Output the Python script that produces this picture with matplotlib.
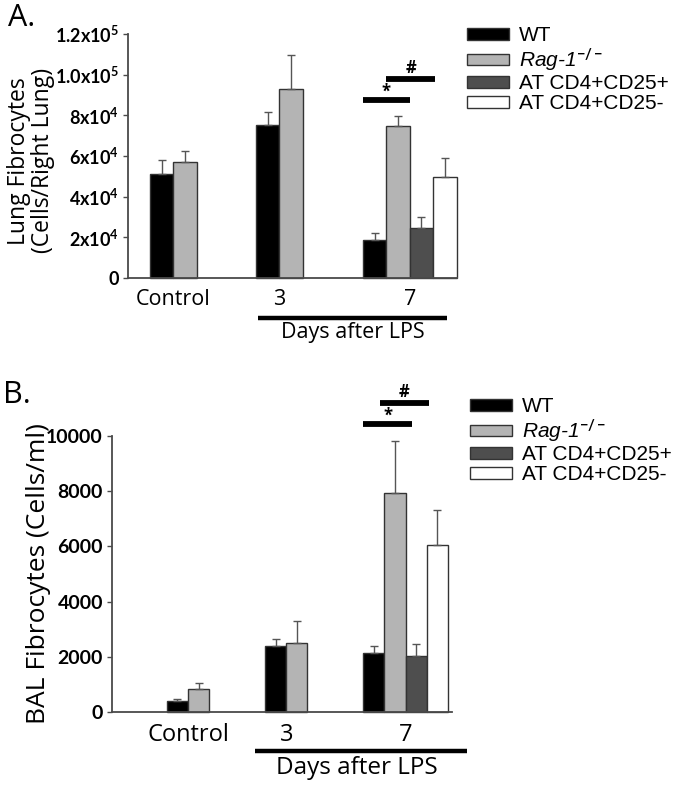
import numpy as np
import matplotlib
matplotlib.use("Agg")
import matplotlib.pyplot as plt
from matplotlib.patches import Patch
from matplotlib.transforms import blended_transform_factory

plt.rcParams['font.family'] = ['Open Sans', 'DejaVu Sans']
plt.rcParams['mathtext.fontset'] = 'custom'
plt.rcParams['mathtext.rm'] = 'Lato:bold'
plt.rcParams['mathtext.it'] = 'Liberation Sans:italic'

groups = ['Control', '3', '7']
series = ['WT', 'Rag-1$^{\\mathit{-/-}}$', 'AT CD4+CD25+', 'AT CD4+CD25-']
colors = ['#000000', '#b4b4b4', '#4e4e4e', '#ffffff']

# panel A: lung fibrocytes (cells / right lung), mean and upper SEM
lung_wt = [51000, 75000, 18700]
lung_wt_err = [7000, 6500, 3500]
lung_rag = [57000, 93000, 74700]
lung_rag_err = [5500, 16500, 5000]
lung_pos = [24700]          # AT CD4+CD25+, day 7 only
lung_pos_err = [5300]
lung_neg = [49700]          # AT CD4+CD25-, day 7 only
lung_neg_err = [9300]
lung_ticks = [0, 20000, 40000, 60000, 80000, 100000, 120000]
lung_ticklabels = ['0', '2x10$^4$', '4x10$^4$', '6x10$^4$', '8x10$^4$',
                   '1.0x10$^5$', '1.2x10$^5$']

# panel B: BAL fibrocytes (cells / ml)
bal_wt = [400, 2390, 2140]
bal_wt_err = [70, 250, 250]
bal_rag = [830, 2500, 7930]
bal_rag_err = [220, 800, 1890]
bal_pos = [2030]
bal_pos_err = [430]
bal_neg = [6050]
bal_neg_err = [1270]
bal_ticks = [0, 2000, 4000, 6000, 8000, 10000]
bal_ticklabels = ['0', '2000', '4000', '6000', '8000', '10000']

EDGE = '#333333'
AXC = '#4a4a4a'


def draw_panel(ax, starts, xmax, wt, wt_err, rag, rag_err, pos, pos_err,
               neg, neg_err, ymax, ticks, ticklabels, tick_fs, xt_fs, pad):
    starts = np.array(starts)
    ekw = dict(ecolor='#555555', elinewidth=1.0, capsize=3, capthick=1.0)
    bkw = dict(width=1.0, align='edge', edgecolor=EDGE, linewidth=1.0,
               clip_on=False)
    z = np.zeros(len(wt))
    ax.bar(starts, wt, color=colors[0], yerr=[z, wt_err], error_kw=ekw, **bkw)
    ax.bar(starts + 1, rag, color=colors[1], yerr=[z, rag_err], error_kw=ekw, **bkw)
    ax.bar(starts[-1:] + 2, pos, color=colors[2], yerr=[[0], pos_err],
           error_kw=ekw, **bkw)
    ax.bar(starts[-1:] + 3, neg, color=colors[3], yerr=[[0], neg_err],
           error_kw=ekw, **bkw)

    ax.set_xlim(0, xmax)
    ax.set_ylim(0, ymax)
    ax.set_yticks(ticks, ticklabels)
    centers = [starts[0] + 1, starts[1] + 1, starts[2] + 2]
    ax.set_xticks(centers, groups)
    for s in ['top', 'right']:
        ax.spines[s].set_visible(False)
    for s in ['left', 'bottom']:
        ax.spines[s].set_color(AXC)
        ax.spines[s].set_linewidth(1.3)
    ax.tick_params(axis='y', direction='out', length=3.5, width=1.0,
                   color=AXC, pad=3, labelsize=tick_fs)
    ax.tick_params(axis='x', length=0, pad=pad, labelsize=xt_fs)
    for t in ax.get_yticklabels():
        t.set_fontfamily(['Lato', 'DejaVu Sans'])
        t.set_fontweight('bold')
    return starts


def sig_bar(ax, x0, x1, y, mark, off):
    ax.plot([x0, x1], [y, y], color='black', lw=4.2, solid_capstyle='butt',
            clip_on=False)
    ax.annotate(mark, xy=((x0 + x1) / 2, y), xytext=(0, off),
                textcoords='offset points', ha='center', va='center',
                fontsize=12, fontweight='bold', annotation_clip=False)


def days_bracket(ax, x0, x1, yline, ytext, fs, shift=0.0):
    tr = blended_transform_factory(ax.transData, ax.transAxes)
    ax.plot([x0, x1], [yline, yline], color='black', lw=3.2,
            solid_capstyle='butt', transform=tr, clip_on=False)
    ax.text((x0 + x1) / 2 + shift, ytext, 'Days after LPS', transform=tr,
            ha='center', va='top', fontsize=fs)


def add_legend(ax, x, y):
    handles = [Patch(facecolor=c, edgecolor=EDGE, linewidth=1.0) for c in colors]
    leg = ax.legend(handles, series, loc='upper left', bbox_to_anchor=(x, y),
                    bbox_transform=ax.figure.transFigure, frameon=False,
                    prop={'family': 'Liberation Sans', 'size': 15},
                    handlelength=2.0, handleheight=0.5, handletextpad=0.5,
                    labelspacing=0.05, borderpad=0, borderaxespad=0)
    leg.get_texts()[1].set_style('italic')
    return leg


fig = plt.figure(figsize=(6.8, 7.86), dpi=100)
W, H = 680.0, 786.0

# ---- panel A ----
axA = fig.add_axes([128 / W, 1 - 278 / H, 329 / W, 244 / H])
sA = draw_panel(axA, [0.94, 5.47, 10.04], 14.06, lung_wt, lung_wt_err,
                lung_rag, lung_rag_err, lung_pos, lung_pos_err,
                lung_neg, lung_neg_err, 120000, lung_ticks, lung_ticklabels,
                13, 15.5, 8)
axA.set_ylabel('Lung Fibrocytes\n(Cells/Right Lung)', fontsize=16.5,
               linespacing=1.0, va='center', ha='center')
axA.yaxis.set_label_coords((31 - 128) / 329, 0.48)
sig_bar(axA, sA[2], sA[2] + 2, 87500, '*', 6)
sig_bar(axA, sA[2] + 1, sA[2] + 3.1, 97900, '#', 8)
days_bracket(axA, 5.56, 13.63, -0.164, -0.182, 15.5)
add_legend(axA, 467 / W, 1 - 26 / H)
fig.text(8 / W, 1 - 3 / H, 'A.', fontsize=22, va='top', ha='left')

# ---- panel B ----
axB = fig.add_axes([112 / W, 1 - 712 / H, 340 / W, 276 / H])
sB = draw_panel(axB, [2.6, 7.25, 11.9], 16.1, bal_wt, bal_wt_err,
                bal_rag, bal_rag_err, bal_pos, bal_pos_err,
                bal_neg, bal_neg_err, 10000, bal_ticks, bal_ticklabels,
                14, 17, 8)
axB.set_ylabel('BAL Fibrocytes (Cells/ml)', fontsize=19, va='center',
               ha='center')
axB.yaxis.set_label_coords((39 - 112) / 340, 0.5)
sig_bar(axB, sB[2], sB[2] + 2.3, 10435, '*', 6)
sig_bar(axB, sB[2] + 0.8, sB[2] + 3.1, 11200, '#', 8)
days_bracket(axB, 6.78, 16.82, -0.141, -0.158, 17.5, shift=-0.2)
add_legend(axB, 470 / W, 1 - 397 / H)
fig.text(3 / W, 1 - 380 / H, 'B.', fontsize=22, va='top', ha='left')

fig.savefig('out.png', dpi=100)
